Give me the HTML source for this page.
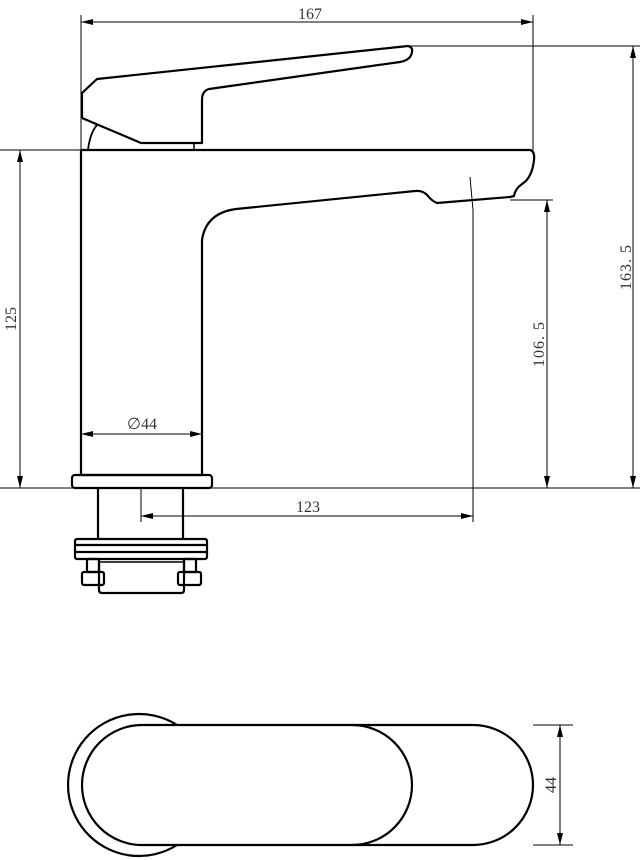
<!DOCTYPE html>
<html><head><meta charset="utf-8"><style>html,body{margin:0;padding:0;background:#fff}svg{display:block}text{font-family:"Liberation Serif",serif;font-size:16px;fill:#333}</style></head><body>
<svg width="644" height="860" viewBox="0 0 644 860" xmlns="http://www.w3.org/2000/svg">
<defs>
<marker id="a" viewBox="0 0 12 6" refX="12" refY="3" markerWidth="12" markerHeight="6" orient="auto-start-reverse" markerUnits="userSpaceOnUse"><path d="M0,0 L12,3 L0,6 z" fill="#000"/></marker>
</defs>
<g stroke="#000" stroke-width="1" fill="none">
<line x1="81" y1="15" x2="81" y2="150"/>
<line x1="533" y1="15" x2="533" y2="150"/>
<line x1="81" y1="22" x2="533" y2="22" marker-start="url(#a)" marker-end="url(#a)"/>
<line x1="410" y1="46" x2="640" y2="46"/>
<line x1="633" y1="46" x2="633" y2="488" marker-start="url(#a)" marker-end="url(#a)"/>
<line x1="510" y1="200" x2="553" y2="200"/>
<line x1="547" y1="200" x2="547" y2="488" marker-start="url(#a)" marker-end="url(#a)"/>
<line x1="0" y1="150" x2="81" y2="150"/>
<line x1="20" y1="150" x2="20" y2="488" marker-start="url(#a)" marker-end="url(#a)"/>
<line x1="0" y1="488" x2="640" y2="488"/>
<line x1="81" y1="434" x2="202" y2="434" marker-start="url(#a)" marker-end="url(#a)"/>
<path d="M470,177 L473,210 L473,522"/>
<line x1="141" y1="489" x2="141" y2="522"/>
<line x1="141" y1="516" x2="473" y2="516" marker-start="url(#a)" marker-end="url(#a)"/>
<line x1="533" y1="725" x2="573" y2="725"/>
<line x1="533" y1="845" x2="573" y2="845"/>
<line x1="560" y1="725" x2="560" y2="845" marker-start="url(#a)" marker-end="url(#a)"/>
</g>
<g stroke="#000" stroke-width="2.2" fill="none" stroke-linejoin="round">
<path d="M82,118 L82,93 L97,79 L408,46 Q413,47 412,52 Q411,60 400,62 L209,89 Q202,91 202,100 L202,143 L141,143 L82,118"/>
<path d="M88,150 Q90,133 97,125" stroke-width="1.8"/>
<line x1="194" y1="143" x2="194" y2="150" stroke-width="1.5"/>
<path d="M81,150 L530,150 Q535,151 534,160 Q532,178 522,184 Q515,189 514,196 L510,197 L437,203 Q432,201 428,196 Q423,190 415,191 L236,209 Q206,213 202,240 L202,475"/>
<line x1="81" y1="150" x2="81" y2="475"/>
<line x1="81" y1="475" x2="202" y2="475"/>
<rect x="72" y="475" width="140" height="13" rx="3"/>
<line x1="98" y1="488" x2="98" y2="539"/>
<line x1="183" y1="488" x2="183" y2="539"/>
<rect x="75" y="539" width="132" height="20" rx="2"/>
<line x1="75" y1="545" x2="207" y2="545"/>
<line x1="75" y1="552" x2="207" y2="552"/>
<path d="M99,559 L99,590 Q99,593 102,593 L181,593 Q184,593 184,590 L184,559"/>
<line x1="100" y1="562" x2="183" y2="562" stroke-width="1.5"/>
<rect x="87" y="559" width="12" height="13"/>
<rect x="184" y="559" width="12" height="13"/>
<rect x="82" y="572" width="22" height="13" rx="2"/>
<rect x="178" y="572" width="23" height="13" rx="2"/>
<path d="M177,725 A71,71 0 1 0 177,845"/>
<path d="M142,725 L473,725 A60,60 0 0 1 473,845 L142,845 A60,60 0 0 1 142,725 Z"/>
<path d="M352,725 A60,60 0 0 1 352,845"/>
</g>
<text x="310" y="19" text-anchor="middle">167</text>
<g transform="translate(631,267) rotate(-90)"><text text-anchor="middle" y="0" letter-spacing="1">163. 5</text></g>
<g transform="translate(544,344) rotate(-90)"><text text-anchor="middle" y="0" letter-spacing="1">106. 5</text></g>
<g transform="translate(16,319) rotate(-90)"><text text-anchor="middle" y="0">125</text></g>
<text x="142" y="429" text-anchor="middle">∅44</text>
<text x="308" y="512" text-anchor="middle">123</text>
<g transform="translate(556,785) rotate(-90)"><text text-anchor="middle" y="0" font-family="Liberation Sans" font-size="15">44</text></g>
</svg>
</body></html>
